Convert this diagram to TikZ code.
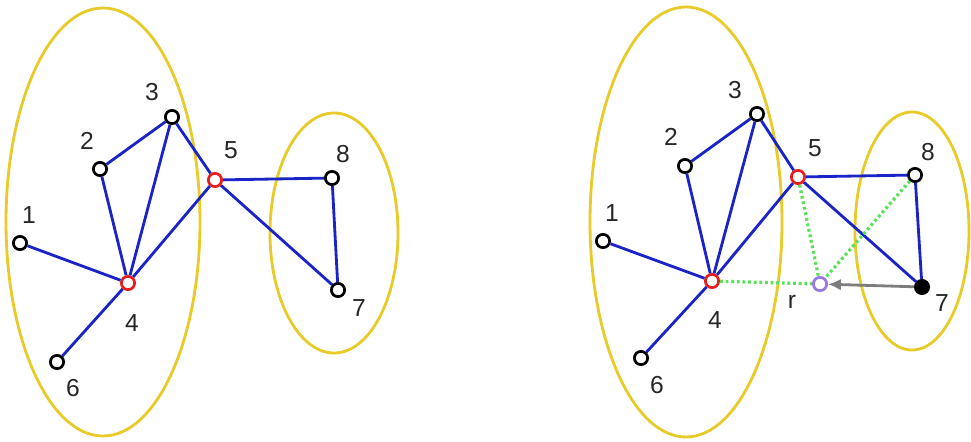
\documentclass[tikz,border=0pt]{standalone}
\usepackage{fontspec}
\setmainfont{Liberation Sans}
\usetikzlibrary{arrows.meta}
\definecolor{ovalyel}{RGB}{232,202,40}
\definecolor{edgeblue}{RGB}{25,35,200}
\definecolor{hubred}{RGB}{232,30,30}
\definecolor{refpurple}{RGB}{155,120,225}
\definecolor{hintgreen}{RGB}{90,225,90}
\definecolor{movegray}{RGB}{125,125,125}
\begin{document}
\begin{tikzpicture}[x=0.03cm,y=-0.03cm,>=Latex,
 vtx/.style={draw,circle,line width=2.3pt,minimum size=0.4cm,inner sep=0pt},
 hub/.style={vtx,draw=hubred},
 num/.style={font=\fontsize{21}{21}\selectfont,text=black!85,inner sep=0pt},
 edge/.style={draw=edgeblue,line width=2.4pt},
 oval/.style={draw=ovalyel,line width=2.4pt},
 hint/.style={draw=hintgreen,line width=2.8pt,dash pattern=on 2.4pt off 2.4pt}]
\useasboundingbox (0,0) rectangle (971,441);
\draw[oval](103,222) ellipse [x radius=97,y radius=214];
\draw[oval](334,233) ellipse [x radius=64,y radius=120];
\draw[oval](686,222) ellipse [x radius=96,y radius=215];
\draw[oval](912,231) ellipse [x radius=57,y radius=119];
\node[vtx](a1) at (20,243){};\node[vtx](a2) at (100,169){};
\node[vtx](a3) at (172,117){};\node[hub](a4) at (128,283){};
\node[hub](a5) at (215,180){};\node[vtx](a6) at (57,362){};
\node[vtx](a7) at (338,290){};\node[vtx](a8) at (332,178){};
\node[num](la1) at (29,215){1};\node[num](la2) at (87,141){2};
\node[num](la3) at (152,92){3};\node[num](la4) at (132,323){4};
\node[num](la5) at (231,150){5};\node[num](la6) at (73,388){6};
\node[num](la7) at (359,308){7};\node[num](la8) at (343,154){8};
\draw[edge](a1)--(a4);\draw[edge](a2)--(a3);\draw[edge](a2)--(a4);
\draw[edge](a3)--(a4);\draw[edge](a3)--(a5);\draw[edge](a4)--(a5);
\draw[edge](a4)--(a6);\draw[edge](a5)--(a8);\draw[edge](a5)--(a7);
\draw[edge](a8)--(a7);
\node[vtx](b1) at (603,241){};\node[vtx](b2) at (685,166){};
\node[vtx](b3) at (757,114){};\node[hub](b4) at (712,281){};
\node[hub](b5) at (798,177){};\node[vtx](b6) at (641,358){};
\node[vtx,fill=black](b7) at (922,287){};\node[vtx](b8) at (915,175){};
\node[vtx,draw=refpurple](br) at (820,284){};
\node[num](lb1) at (612,213){1};\node[num](lb2) at (671,137){2};
\node[num](lb3) at (735,90){3};\node[num](lb4) at (715,320){4};
\node[num](lb5) at (815,148){5};\node[num](lb6) at (657,385){6};
\node[num](lb7) at (942,303){7};\node[num](lb8) at (928,152){8};
\node[num](lbr) at (792,302){r};
\draw[edge](b1)--(b4);\draw[edge](b2)--(b3);\draw[edge](b2)--(b4);
\draw[edge](b3)--(b4);\draw[edge](b3)--(b5);\draw[edge](b4)--(b5);
\draw[edge](b4)--(b6);\draw[edge](b5)--(b8);\draw[edge](b5)--(b7);
\draw[edge](b8)--(b7);
\draw[hint](b4)--(br);\draw[hint](b5)--(br);\draw[hint](b8)--(br);
\draw[movegray,line width=2.4pt,-{Latex[length=11pt,width=10pt]}](b7)--(br);
\end{tikzpicture}
\end{document}
